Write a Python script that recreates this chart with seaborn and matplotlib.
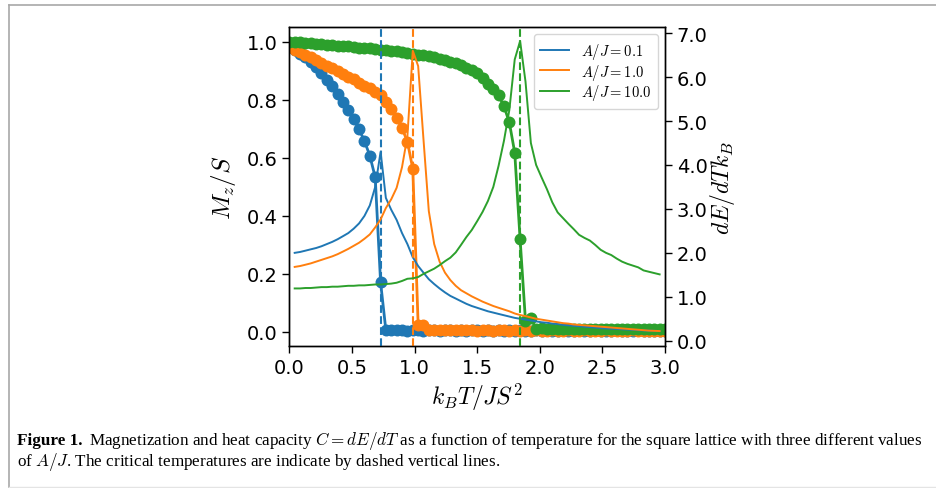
import numpy as np
import pandas as pd
import matplotlib
matplotlib.use("Agg")
import matplotlib.pyplot as plt
import matplotlib.ticker as mticker
from matplotlib.lines import Line2D
import seaborn as sns

plt.rcParams['mathtext.fontset'] = 'cm'
plt.rcParams['font.family'] = ['DejaVu Sans']

# ---------------- data ----------------
temperature = [0.000, 0.043, 0.086, 0.129, 0.171, 0.214, 0.257, 0.300, 0.343, 0.386,
               0.429, 0.471, 0.514, 0.557, 0.600, 0.643, 0.686, 0.729, 0.771, 0.814,
               0.857, 0.900, 0.943, 0.986, 1.029, 1.071, 1.114, 1.157, 1.200, 1.243,
               1.286, 1.329, 1.371, 1.414, 1.457, 1.500, 1.543, 1.586, 1.629, 1.671,
               1.714, 1.757, 1.800, 1.843, 1.886, 1.929, 1.971, 2.014, 2.057, 2.100,
               2.143, 2.186, 2.229, 2.271, 2.314, 2.357, 2.400, 2.443, 2.486, 2.529,
               2.571, 2.614, 2.657, 2.700, 2.743, 2.786, 2.829, 2.871, 2.914, 2.957,
               3.000]

labels = [r'$A/J = 0.1$', r'$A/J = 1.0$', r'$A/J = 10.0$']
critical_T = [0.729, 0.986, 1.843]

mag_01 = [0.980, 0.970, 0.958, 0.945, 0.931, 0.912, 0.890, 0.868, 0.845, 0.819,
          0.792, 0.764, 0.733, 0.697, 0.657, 0.606, 0.532, 0.169, 0.005, 0.006,
          0.004, 0.005, 0.003, 0.004, 0.005, 0.003, 0.004, 0.004, 0.003, 0.004,
          0.005, 0.003, 0.004, 0.003, 0.004, 0.004, 0.003, 0.004, 0.003, 0.004,
          0.003, 0.004, 0.003, 0.004, 0.003, 0.003, 0.004, 0.003, 0.004, 0.003,
          0.003, 0.004, 0.003, 0.003, 0.004, 0.003, 0.003, 0.004, 0.003, 0.003,
          0.003, 0.004, 0.003, 0.003, 0.003, 0.004, 0.003, 0.003, 0.003, 0.003,
          0.003]
mag_1 = [0.980, 0.971, 0.963, 0.954, 0.945, 0.936, 0.927, 0.917, 0.908, 0.898,
         0.889, 0.879, 0.869, 0.858, 0.848, 0.838, 0.827, 0.814, 0.792, 0.768,
         0.737, 0.701, 0.655, 0.561, 0.022, 0.022, 0.006, 0.005, 0.004, 0.005,
         0.004, 0.004, 0.005, 0.004, 0.004, 0.003, 0.004, 0.004, 0.003, 0.004,
         0.004, 0.003, 0.004, 0.003, 0.004, 0.003, 0.004, 0.003, 0.003, 0.004,
         0.003, 0.003, 0.004, 0.003, 0.003, 0.004, 0.003, 0.003, 0.003, 0.004,
         0.003, 0.003, 0.003, 0.003, 0.004, 0.003, 0.003, 0.003, 0.003, 0.003,
         0.003]
mag_10 = [1.000, 0.999, 0.997, 0.996, 0.994, 0.993, 0.991, 0.989, 0.988, 0.986,
          0.984, 0.983, 0.981, 0.979, 0.978, 0.976, 0.974, 0.972, 0.970, 0.968,
          0.966, 0.963, 0.961, 0.958, 0.955, 0.952, 0.949, 0.945, 0.941, 0.936,
          0.931, 0.925, 0.918, 0.910, 0.901, 0.890, 0.875, 0.855, 0.835, 0.815,
          0.777, 0.721, 0.617, 0.318, 0.036, 0.046, 0.008, 0.012, 0.009, 0.008,
          0.010, 0.008, 0.009, 0.008, 0.008, 0.009, 0.008, 0.007, 0.008, 0.008,
          0.007, 0.008, 0.007, 0.008, 0.007, 0.007, 0.008, 0.007, 0.007, 0.007,
          0.007]

heat_01 = [2.00, 2.02, 2.05, 2.08, 2.11, 2.15, 2.20, 2.25, 2.31, 2.38,
           2.45, 2.55, 2.67, 2.84, 3.08, 3.50, 4.30, 3.25, 2.98, 2.75,
           2.45, 2.20, 1.90, 1.70, 1.55, 1.40, 1.29, 1.19, 1.10, 1.02,
           0.96, 0.90, 0.84, 0.79, 0.75, 0.71, 0.67, 0.64, 0.61, 0.58,
           0.55, 0.52, 0.50, 0.48, 0.46, 0.44, 0.42, 0.41, 0.39, 0.38,
           0.36, 0.35, 0.34, 0.33, 0.32, 0.31, 0.30, 0.29, 0.28, 0.275,
           0.27, 0.26, 0.255, 0.25, 0.24, 0.235, 0.23, 0.225, 0.22]
heat_1 = [1.68, 1.70, 1.73, 1.76, 1.80, 1.84, 1.88, 1.92, 1.97, 2.03,
          2.09, 2.16, 2.23, 2.32, 2.42, 2.58, 2.76, 3.02, 3.22, 3.48,
          3.95, 4.65, 6.60, 6.25, 4.60, 2.95, 2.20, 1.80, 1.55, 1.38,
          1.25, 1.15, 1.08, 1.01, 0.95, 0.89, 0.84, 0.79, 0.75, 0.71,
          0.67, 0.62, 0.585, 0.56, 0.53, 0.50, 0.48, 0.46, 0.44, 0.42,
          0.40, 0.39, 0.37, 0.36, 0.35, 0.34, 0.33, 0.32, 0.31, 0.30,
          0.29, 0.28, 0.27, 0.26, 0.25, 0.24, 0.23, 0.225, 0.22]
heat_10 = [1.19, 1.19, 1.20, 1.20, 1.21, 1.22, 1.22, 1.23, 1.23, 1.24,
           1.25, 1.25, 1.26, 1.26, 1.27, 1.28, 1.28, 1.29, 1.30, 1.32,
           1.36, 1.41, 1.42, 1.45, 1.52, 1.58, 1.64, 1.72, 1.81, 1.89,
           2.01, 2.18, 2.36, 2.52, 2.72, 2.93, 3.18, 3.50, 3.98, 4.55,
           5.25, 6.40, 6.82, 5.90, 4.50, 4.00, 3.72, 3.45, 3.15, 2.92,
           2.79, 2.66, 2.54, 2.41, 2.34, 2.28, 2.18, 2.07, 2.00, 1.95,
           1.87, 1.80, 1.75, 1.71, 1.67, 1.60, 1.57, 1.54, 1.51]

caption_bold = "Figure 1."
caption_line1 = r"Magnetization and heat capacity $C = dE/dT$ as a function of temperature for the square lattice with three different values"
caption_line2 = r"of $A/J$. The critical temperatures are indicate by dashed vertical lines."

# ---------------- figure ----------------
W, H = 937, 489
fig = plt.figure(figsize=(W / 100, H / 100), dpi=100)

def px(x0, y0, x1, y1):
    return [x0 / W, 1 - y1 / H, (x1 - x0) / W, (y1 - y0) / H]

ax = fig.add_axes(px(289.3, 28, 665, 347))
ax2 = ax.twinx()

colors = ['#1f77b4', '#ff7f0e', '#2ca02c']
mags = [mag_01, mag_1, mag_10]
heats = [heat_01, heat_1, heat_10]
t_heat = temperature[1:70]

for lab, m, c in zip(labels, mags, colors):
    df = pd.DataFrame({'T': temperature, 'M': m})
    sns.lineplot(data=df, x='T', y='M', ax=ax, color=c, marker='o',
                 markersize=8.6, markeredgewidth=0, markeredgecolor=c,
                 linewidth=2.0, sort=False, legend=False)

for lab, hc, c, tc in zip(labels, heats, colors, critical_T):
    df = pd.DataFrame({'T': t_heat, 'C': hc})
    sns.lineplot(data=df, x='T', y='C', ax=ax2, color=c, linewidth=1.4,
                 sort=False, label=lab)
    ax2.axvline(tc, color=c, linestyle='--', linewidth=1.5)

ax.set_xlim(0, 3.0)
ax.set_ylim(-0.05, 1.05)
ax2.set_ylim(-0.12, 7.14)
ax.set_xticks([0, 0.5, 1.0, 1.5, 2.0, 2.5, 3.0])
ax.set_yticks([0, 0.2, 0.4, 0.6, 0.8, 1.0])
ax2.set_yticks([0, 1, 2, 3, 4, 5, 6, 7])
ax.xaxis.set_major_formatter(mticker.FormatStrFormatter('%.1f'))
ax.yaxis.set_major_formatter(mticker.FormatStrFormatter('%.1f'))
ax2.yaxis.set_major_formatter(mticker.FormatStrFormatter('%.1f'))
for a in (ax, ax2):
    a.tick_params(labelsize=14, length=5, width=1)
    for s in a.spines.values():
        s.set_linewidth(1.0)

ax.set_xlabel(r'$k_BT/JS^2$', fontsize=17, labelpad=3)
ax.set_ylabel(r'$M_z/S$', fontsize=18, labelpad=6)
ax2.set_ylabel(r'$dE/dTk_B$', fontsize=17, labelpad=0)

leg = ax2.legend(loc='upper right', fontsize=10.5, handlelength=2.0,
                 labelspacing=0.05, borderpad=0.45)

# frame lines around the figure panel (top, left, bottom)
frame_kw = dict(transform=fig.transFigure, color='#a8a8a8', linewidth=1.2)
fig.add_artist(Line2D([9.5 / W, 1.0], [1 - 5.5 / H, 1 - 5.5 / H], **frame_kw))
fig.add_artist(Line2D([9.5 / W, 9.5 / W], [1 - 5.5 / H, 1 - 487.5 / H], **frame_kw))
fig.add_artist(Line2D([9.5 / W, 1.0], [1 - 487.5 / H, 1 - 487.5 / H],
                      transform=fig.transFigure, color='#e4e4e4', linewidth=1.0))

# caption
serif = ['Liberation Serif', 'DejaVu Serif']
fs = 12.3
y1 = 1 - 445 / H
y2 = 1 - 466 / H
tb = fig.text(17 / W, y1, caption_bold, fontsize=fs, fontweight='bold',
              family=serif, va='baseline')
fig.canvas.draw()
r = fig.canvas.get_renderer()
bb = tb.get_window_extent(r)
x_after = (bb.x1 + 7) / W
t1 = fig.text(x_after, y1, caption_line1, fontsize=fs, family=serif, va='baseline')
fig.text(17 / W, y2, caption_line2, fontsize=fs, family=serif, va='baseline')

fig.savefig('out.png', dpi=100)
